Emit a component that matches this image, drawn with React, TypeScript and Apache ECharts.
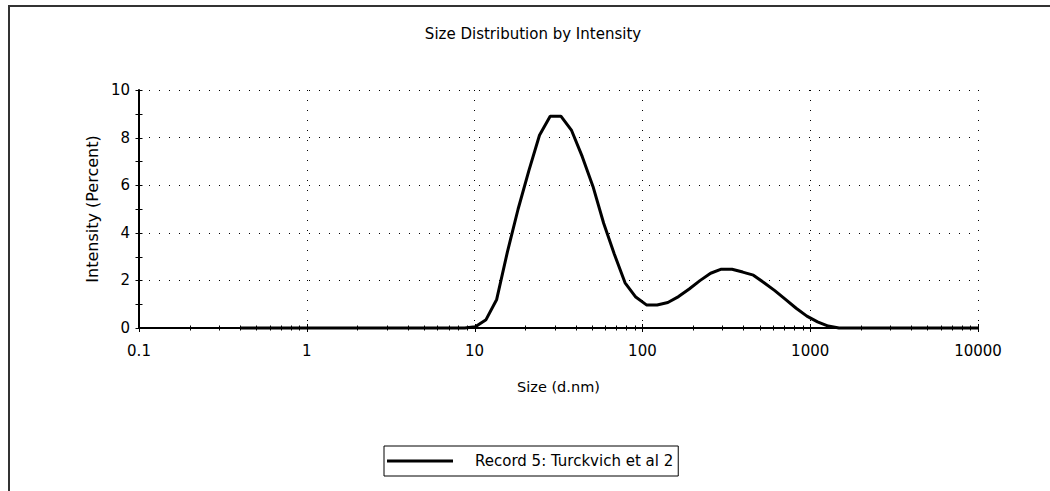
import React, { useEffect, useRef } from "react";
import * as echarts from "echarts";

const TITLE = "Size Distribution by Intensity";
const X_NAME = "Size (d.nm)";
const Y_NAME = "Intensity (Percent)";
const SERIES_NAME = "Record 5: Turckvich et al 2";

// Size classes (d.nm)
const sizes = [
  0.4, 0.4632, 0.5365, 0.6213, 0.7195, 0.8332, 0.9649, 1.117, 1.294, 1.499,
  1.736, 2.01, 2.328, 2.696, 3.122, 3.615, 4.187, 4.849, 5.615, 6.503,
  7.531, 8.721, 10.1, 11.7, 13.54, 15.69, 18.17, 21.04, 24.36, 28.21,
  32.67, 37.84, 43.82, 50.75, 58.77, 68.06, 78.82, 91.28, 105.7, 122.4,
  141.8, 164.2, 190.1, 220.2, 255.0, 295.3, 342.0, 396.1, 458.7, 531.2,
  615.1, 712.4, 825.0, 955.4, 1106, 1281, 1484, 1718, 1990, 2305,
  2669, 3091, 3580, 4145, 4801, 5560, 6439, 7456, 8635, 10000,
];

// Intensity (%)
const intensity = [
  0, 0, 0, 0, 0, 0, 0, 0, 0, 0,
  0, 0, 0, 0, 0, 0, 0, 0, 0, 0,
  0, 0, 0.05, 0.35, 1.2, 3.2, 5.0, 6.6, 8.1, 8.9,
  8.9, 8.3, 7.2, 5.95, 4.4, 3.1, 1.9, 1.3, 0.97, 0.97,
  1.07, 1.32, 1.64, 1.99, 2.3, 2.47, 2.47, 2.35, 2.22, 1.9,
  1.57, 1.2, 0.83, 0.5, 0.26, 0.08, 0, 0, 0, 0,
  0, 0, 0, 0, 0, 0, 0, 0, 0, 0,
];

const X_MIN = 0.1;
const X_MAX = 10000;
const Y_MIN = 0;
const Y_MAX = 10;
const Y_STEP = 2;

const xMajorTicks = [0.1, 1, 10, 100, 1000, 10000];
const xMinorTicks = [
  0.2, 0.3, 0.4, 0.5, 0.6, 0.7, 0.8, 0.9,
  2, 3, 4, 5, 6, 7, 8, 9,
  20, 30, 40, 50, 60, 70, 80, 90,
  200, 300, 400, 500, 600, 700, 800, 900,
  2000, 3000, 4000, 5000, 6000, 7000, 8000, 9000,
];
const yMajorTicks = [0, 2, 4, 6, 8, 10];
const yMinorTicks = [1, 3, 5, 7, 9];

const FONT = "DejaVu Sans";

function xTickSeries(values: number[], len: number, name: string) {
  return {
    type: "custom",
    name,
    silent: true,
    clip: false,
    z: 6,
    data: values.map((v) => [v, Y_MIN]),
    renderItem: (_p: any, api: any) => {
      const p = api.coord([api.value(0), api.value(1)]);
      const x = Math.round(p[0]) + 0.5;
      return {
        type: "line",
        shape: { x1: x, y1: p[1] - len, x2: x, y2: p[1] + len },
        style: { stroke: "#000", lineWidth: 1 },
      };
    },
  };
}

function yTickSeries(values: number[], len: number, name: string) {
  return {
    type: "custom",
    name,
    silent: true,
    clip: false,
    z: 6,
    data: values.map((v) => [X_MIN, v]),
    renderItem: (_p: any, api: any) => {
      const p = api.coord([api.value(0), api.value(1)]);
      const y = Math.round(p[1]) + 0.5;
      return {
        type: "line",
        shape: { x1: p[0] - len, y1: y, x2: p[0] + len, y2: y },
        style: { stroke: "#000", lineWidth: 1 },
      };
    },
  };
}

export default function App() {
  const ref = useRef<HTMLDivElement>(null);

  useEffect(() => {
    if (!ref.current) return;
    const chart = echarts.init(ref.current, undefined, { renderer: "svg" });
    const dotted = { color: "#000", width: 1, type: [1, 9] as number[] };
    chart.setOption({
      animation: false,
      backgroundColor: "#fff",
      textStyle: { fontFamily: FONT },
      title: {
        text: TITLE,
        left: 533,
        top: 26,
        padding: 0,
        textAlign: "center",
        textStyle: { fontFamily: FONT, fontSize: 15, fontWeight: "normal", color: "#000" },
      },
      graphic: [
        {
          type: "rect",
          silent: true,
          z: -10,
          shape: { x: 9, y: 6, width: 1200, height: 800 },
          style: { fill: "none", stroke: "#333", lineWidth: 2 },
        },
      ],
      legend: {
        data: [SERIES_NAME],
        left: 384,
        top: 446,
        orient: "horizontal",
        borderColor: "#000",
        borderWidth: 1,
        padding: [5, 5, 5, 3],
        itemWidth: 66,
        itemHeight: 3,
        icon: "rect",
        selectedMode: false,
        textStyle: { fontFamily: FONT, fontSize: 15, color: "#000", padding: [0, 0, 0, 17], lineHeight: 20 },
      },
      grid: { left: 139, right: 72, top: 90, bottom: 163, containLabel: false },
      xAxis: {
        type: "log",
        logBase: 10,
        min: X_MIN,
        max: X_MAX,
        splitNumber: 5,
        name: X_NAME,
        nameLocation: "middle",
        nameGap: 51,
        nameTextStyle: { fontFamily: FONT, fontSize: 14.5, color: "#000" },
        axisLine: { show: true, onZero: false, lineStyle: { color: "#000", width: 2 } },
        axisTick: { show: false },
        minorTick: { show: false },
        axisLabel: {
          fontFamily: FONT,
          fontSize: 15,
          color: "#000",
          margin: 15,
          formatter: (v: number) => String(+Number(v).toPrecision(6)),
        },
        splitLine: { show: true, lineStyle: dotted },
      },
      yAxis: {
        type: "value",
        min: Y_MIN,
        max: Y_MAX,
        interval: Y_STEP,
        name: Y_NAME,
        nameLocation: "middle",
        nameGap: 38,
        nameTextStyle: { fontFamily: FONT, fontSize: 16, color: "#000" },
        axisLine: { show: true, lineStyle: { color: "#000", width: 2 } },
        axisTick: { show: false },
        axisLabel: { fontFamily: FONT, fontSize: 15, color: "#000", margin: 9 },
        splitLine: { show: true, lineStyle: dotted },
      },
      series: [
        {
          type: "line",
          name: SERIES_NAME,
          data: sizes.map((s, i) => [s, intensity[i]]),
          showSymbol: false,
          symbol: "none",
          smooth: false,
          color: "#000",
          lineStyle: { color: "#000", width: 3 },
          emphasis: { disabled: true },
          z: 4,
          clip: false,
        },
        xTickSeries(xMajorTicks, 4, "xMajorTicks"),
        xTickSeries(xMinorTicks, 2.5, "xMinorTicks"),
        yTickSeries(yMajorTicks, 3.5, "yMajorTicks"),
        yTickSeries(yMinorTicks, 3.5, "yMinorTicks"),
      ],
    });
    return () => chart.dispose();
  }, []);

  return (
    <div
      ref={ref}
      style={{ position: "absolute", left: 0, top: 0, width: 1050, height: 491, background: "#fff" }}
    />
  );
}
